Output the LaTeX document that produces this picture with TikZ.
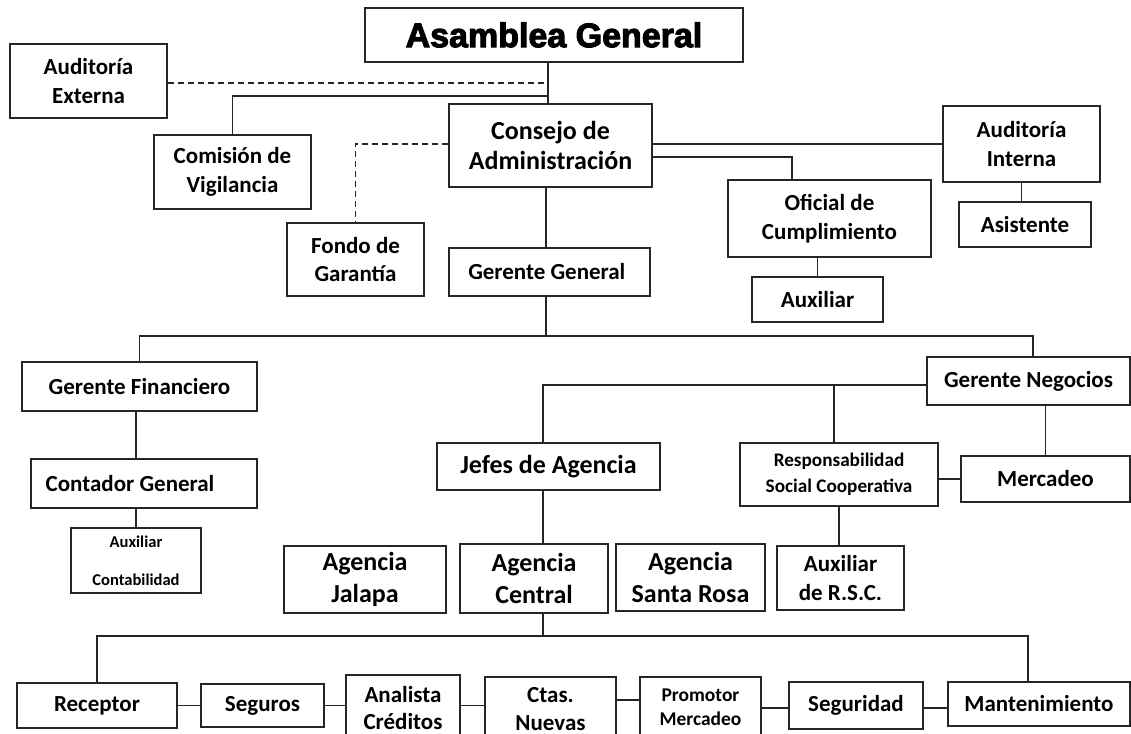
\documentclass[tikz,border=0pt]{standalone}
\usepackage{fontspec}
\setmainfont{Carlito}
\newfontfamily\blkfont[FakeBold=3]{Liberation Sans Bold}
\newcommand\txtn{\bfseries\fontsize{17.25}{21.4}\selectfont}
\newcommand\txtb{\bfseries\fontsize{19.5}{24.5}\selectfont}
\newcommand\txts{\bfseries\fontsize{14.4}{19.5}\selectfont}
\newcommand\bx[7][]{%
  \pgfmathsetmacro\bcx{(#3+#5)/2}\pgfmathsetmacro\bcy{(#4+#6)/2}%
  \pgfmathsetmacro\bw{(#5-#3)*0.75}\pgfmathsetmacro\bh{(#6-#4)*0.75}%
  \node[box,minimum width=\bw pt,minimum height=\bh pt,#1] (#2) at (\bcx,\bcy) {#7};}
\begin{document}
\begin{tikzpicture}[x=0.75pt,y=-0.75pt,
  box/.style={draw=black!85, line width=1.4pt, fill=white, inner sep=0pt, align=center, font=\txtn},
  conn/.style={draw=black!85, line width=1.3pt},
  dconn/.style={conn, dash pattern=on 4.5pt off 3pt}]
\useasboundingbox (0,0) rectangle (1131,734);
\fill[white] (0,0) rectangle (1131,734);
\clip (0,0) rectangle (1131,734);

% boxes
\bx[font=\blkfont\fontsize{25.5}{25.5}\selectfont]{ag}{365}{8}{743}{62}{Asamblea General}
\bx{ae}{10}{44}{167}{118}{Auditoría\\Externa}
\bx{cv}{154}{135}{311}{209}{Comisión de\\Vigilancia}
\bx[font=\bfseries\fontsize{19.5}{23.2}\selectfont]{ca}{449}{104}{652}{187}{Consejo de\\Administración}
\bx{ai}{943}{106}{1100}{182}{Auditoría\\Interna}
\bx{as}{959}{202}{1091}{247}{Asistente}
\bx{oc}{728}{180}{931}{257}{Oficial de\\Cumplimiento}
\bx{ax}{752}{277}{883}{322}{Auxiliar}
\bx{fg}{287}{223}{424}{296}{Fondo de\\Garantía}
\bx{gg}{449}{248}{650}{296}{Gerente General\hspace{4pt}}
\bx{gf}{22}{362}{257}{411}{Gerente Financiero}
\bx{cg}{31}{459}{257}{508}{Contador General\hspace{21pt}}
\bx[font=\bfseries\fontsize{12.4}{28.5}\selectfont]{ac}{71}{528}{201}{593}{Auxiliar\\Contabilidad}
\bx{gn}{927}{357}{1130}{405}{Gerente Negocios}
\bx[font=\txtb]{ja}{437}{443}{660}{490}{Jefes de Agencia}
\bx[font=\txts]{rsc}{740}{443}{938}{506}{Responsabilidad\\Social Cooperativa}
\bx{me}{961}{456}{1130}{502}{Mercadeo}
\bx{arsc}{777}{546}{904}{610}{Auxiliar\\de R.S.C.}
\bx[font=\txtb]{aj}{284}{546}{446}{613}{Agencia\\Jalapa}
\bx[font=\txtb]{acn}{460}{544}{608}{613}{Agencia\\Central}
\bx[font=\txtb]{asr}{616}{544}{765}{611}{Agencia\\Santa Rosa}
\bx{re}{17}{683}{177}{728}{Receptor}
\bx{se}{201}{684}{324}{727}{Seguros}
\bx[font=\bfseries\fontsize{17.25}{20.5}\selectfont]{an}{346}{675}{460}{741}{Analista\\Créditos}
\bx[font=\bfseries\fontsize{17.25}{20.5}\selectfont]{ct}{485}{677}{616}{741}{Ctas.\\Nuevas}
\bx[font=\bfseries\fontsize{14.6}{18}\selectfont]{pm}{640}{677}{761}{738}{Promotor\\Mercadeo}
\bx{sg}{789}{682}{923}{729}{Seguridad}
\bx{mt}{948}{682}{1130}{726}{Mantenimiento}

% junctions
\coordinate (tA) at (548,83);
\coordinate (tB) at (548,96);
\coordinate (tC) at (355,144);
\coordinate (tE) at (792,157);
\coordinate (tG) at (546,336);
\coordinate (tI) at (1033,336);
\coordinate (tJ) at (543,385);
\coordinate (tK) at (834,385);
\coordinate (tL) at (543,636);
\coordinate (tM) at (1028,636);
\coordinate (tN) at (0,700);
\coordinate (tP) at (0,708);

% connectors
\draw[conn] (ag.south -| tB) -- (ca.north -| tB);
\draw[dconn] (ae.east |- tA) -- (tA);
\draw[conn] (cv.north) |- (tB);
\draw[dconn] (ca.west |- tC) -| (fg.north);
\draw[conn] (ai.west) -- (ai.west -| ca.east);
\draw[conn] (ca.east |- tE) -- (tE) -- (oc.north -| tE);
\draw[conn] (ai.south) -- (as.north -| ai.south);
\draw[conn] (ax.north) -- (oc.south -| ax.north);
\draw[conn] (ca.south -| tG) -- (gg.north -| tG);
\draw[conn] (gg.south -| tG) -- (tG);
\draw[conn] (gf.north) |- (tI) -- (gn.north -| tI);
\draw[conn] (gf.south -| ac.north) -- (cg.north -| ac.north);
\draw[conn] (cg.south -| ac.north) -- (ac.north);
\draw[conn] (gn.west |- tJ) -- (tJ) -- (ja.north -| tJ);
\draw[conn] (tK) -- (rsc.north -| tK);
\draw[conn] (me.north) -- (gn.south -| me.north);
\draw[conn] (rsc.east |- me.west) -- (me.west);
\draw[conn] (rsc.south) -- (arsc.north -| rsc.south);
\draw[conn] (ja.south -| tJ) -- (acn.north -| tJ);
\draw[conn] (acn.south -| tL) -- (tL);
\draw[conn] (re.north) |- (tM) -- (mt.north -| tM);
\draw[conn] (re.east) -- (se.west);
\draw[conn] (se.east) -- (an.west |- se.east);
\draw[conn] (an.east |- se.east) -- (ct.west |- se.east);
\draw[conn] (ct.east |- tN) -- (pm.west |- tN);
\draw[conn] (pm.east |- tP) -- (sg.west |- tP);
\draw[conn] (sg.east |- tP) -- (mt.west |- tP);
\end{tikzpicture}
\end{document}
